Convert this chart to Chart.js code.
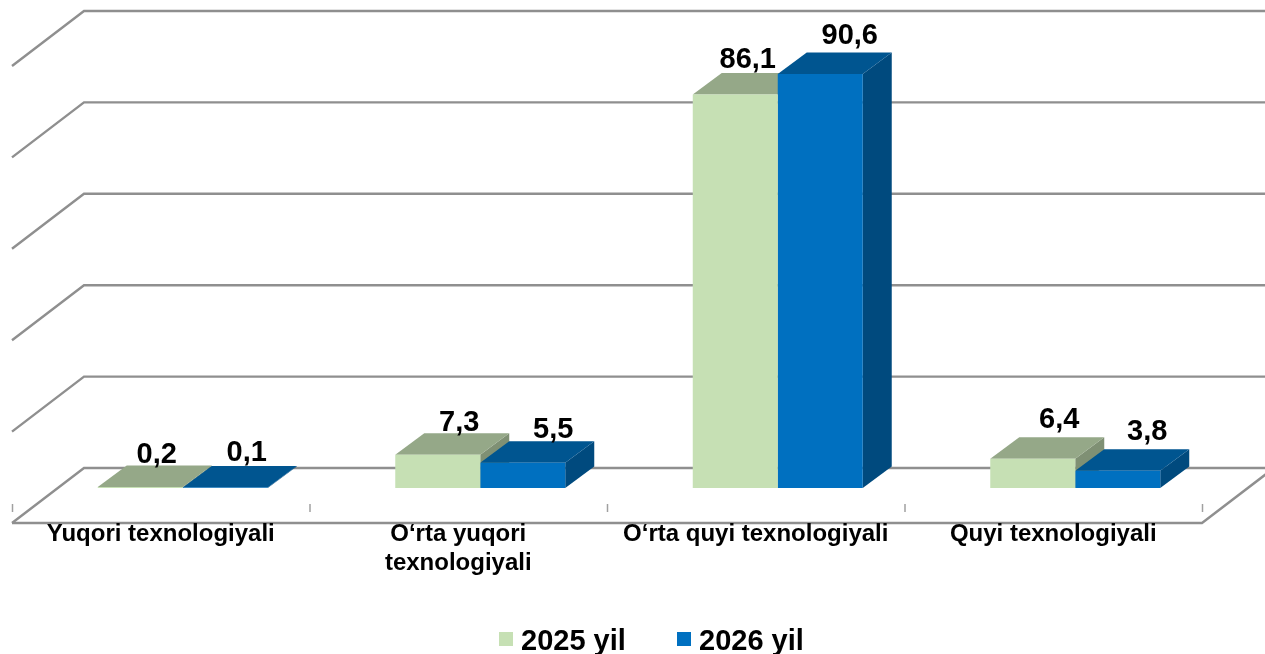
<!DOCTYPE html>
<html>
<head>
<meta charset="utf-8">
<style>
html,body{margin:0;padding:0;background:#fff;overflow:hidden}
canvas{display:block}
</style>
<script src="https://cdn.jsdelivr.net/npm/chart.js@4"></script>
</head>
<body>
<canvas id="c" width="1265" height="654"></canvas>
<script>
const categories = ["Yuqori texnologiyali", ["O‘rta yuqori", "texnologiyali"], "O‘rta quyi texnologiyali", "Quyi texnologiyali"];
const series2025 = [0.2, 7.3, 86.1, 6.4];
const series2026 = [0.1, 5.5, 90.6, 3.8];
const seriesNames = ["2025 yil", "2026 yil"];

const FACES = [
  {front:"#C6E0B4", top:"#95A888", side:"#7F9074"},
  {front:"#0070C0", top:"#005590", side:"#004A7E"}
];
const GRID = "#8F8F8F";
const FONT = '"Liberation Sans", Arial, sans-serif';
const DX = 29, DY = 21.5;           // bar depth
const FX = 72, FY = 55;             // floor depth
const SHIFT = 22;                   // bars sit mid-way in the floor depth
const labelNudge = [
  [[2,-3],[7,-2],[-2,-5],[12,-9]],
  [[7,-5],[16,-3],[15,-8],[15,-9]]
];

const threeD = {
  id: "threeD",
  beforeDraw(chart) {
    const {ctx, chartArea: a, scales: {x, y}} = chart;
    const fl = a.left - SHIFT, fr = a.right - SHIFT;
    ctx.save();
    ctx.strokeStyle = GRID; ctx.lineWidth = 2.4; ctx.lineJoin = "miter";
    y.ticks.forEach(t => {
      const py = y.getPixelForValue(t.value);
      const by = py - 20, fy = by + FY;
      ctx.beginPath();
      ctx.moveTo(fl, fy); ctx.lineTo(fl + FX, by); ctx.lineTo(chart.width + 2, by);
      ctx.stroke();
    });
    const y0 = y.getPixelForValue(0), fy0 = y0 + FY - 20;
    ctx.beginPath();
    ctx.moveTo(fl, fy0); ctx.lineTo(fr, fy0); ctx.lineTo(fr + FX, fy0 - FY);
    ctx.stroke();
    ctx.lineWidth = 1.5; ctx.strokeStyle = "#A0A0A0";
    const step = (fr - fl) / categories.length;
    for (let i = 0; i <= categories.length; i++) {
      const tx = fl + step * i + 0.5;
      ctx.beginPath(); ctx.moveTo(tx, fy0 - 19); ctx.lineTo(tx, fy0 - 11); ctx.stroke();
    }
    ctx.restore();
  },
  beforeDatasetsDraw(chart) {
    const ctx = chart.ctx;
    ctx.save();
    [0, 1].forEach(d => {
      chart.getDatasetMeta(d).data.forEach(b => {
        const l = b.x - b.width / 2, r = b.x + b.width / 2, t = b.y, bt = b.base;
        ctx.fillStyle = FACES[d].side;
        ctx.beginPath();
        ctx.moveTo(r, t); ctx.lineTo(r + DX, t - DY); ctx.lineTo(r + DX, bt - DY); ctx.lineTo(r, bt);
        ctx.closePath(); ctx.fill();
        ctx.fillStyle = FACES[d].top;
        ctx.beginPath();
        ctx.moveTo(l, t); ctx.lineTo(l + DX, t - DY); ctx.lineTo(r + DX, t - DY); ctx.lineTo(r, t);
        ctx.closePath(); ctx.fill();
      });
    });
    ctx.restore();
  },
  afterDatasetsDraw(chart) {
    const ctx = chart.ctx;
    ctx.save();
    ctx.fillStyle = "#000";
    ctx.font = "bold 29px " + FONT;
    ctx.textAlign = "center"; ctx.textBaseline = "alphabetic";
    [0, 1].forEach(d => {
      const ds = chart.data.datasets[d];
      chart.getDatasetMeta(d).data.forEach((b, i) => {
        const n = labelNudge[d][i];
        ctx.fillText(String(ds.data[i]).replace(".", ","), b.x + DX / 2 + n[0], b.y - DY + n[1]);
      });
    });
    // legend
    ctx.textAlign = "left"; ctx.font = "bold 29px " + FONT;
    [[499, 521], [677, 699]].forEach((p, d) => {
      ctx.fillStyle = FACES[d].front;
      ctx.fillRect(p[0], 632, 14, 14);
      ctx.fillStyle = "#000";
      ctx.fillText(seriesNames[d], p[1], 650);
    });
    ctx.restore();
  }
};

new Chart(document.getElementById("c"), {
  type: "bar",
  data: {
    labels: categories,
    datasets: [
      {label: seriesNames[0], data: series2025, backgroundColor: FACES[0].front, borderWidth: 0},
      {label: seriesNames[1], data: series2026, backgroundColor: FACES[1].front, borderWidth: 0}
    ]
  },
  options: {
    responsive: false,
    animation: false,
    layout: {padding: {left: 34, right: 41, top: 31, bottom: 0}},
    categoryPercentage: 0.5714,
    barPercentage: 1,
    plugins: {legend: {display: false}, tooltip: {enabled: false}},
    scales: {
      x: {
        grid: {display: false},
        border: {display: false},
        afterFit(s) { s.height = 166; },
        ticks: {
          autoSkip: false, maxRotation: 0, minRotation: 0,
          padding: 24, labelOffset: -SHIFT, color: "#000",
          font: {family: FONT, weight: "bold", size: 24, lineHeight: 1.2}
        }
      },
      y: {display: false, min: 0, max: 100, ticks: {stepSize: 20}}
    }
  },
  plugins: [threeD]
});
</script>
</body>
</html>
